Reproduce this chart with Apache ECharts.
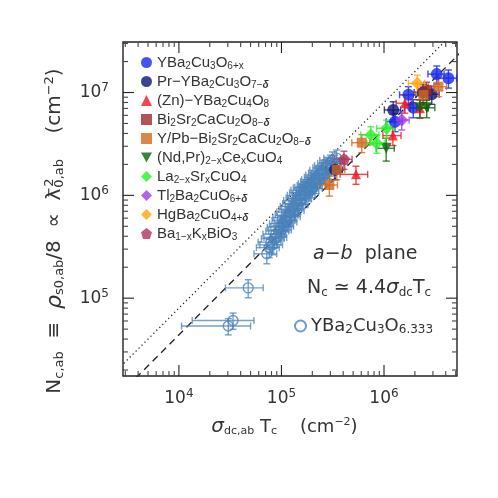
<!DOCTYPE html>
<html><head><meta charset="utf-8">
<script src="https://cdn.jsdelivr.net/npm/echarts@6/dist/echarts.min.js"></script>
<style>html,body{margin:0;padding:0;background:#fff}#c{width:498px;height:498px}</style>
</head><body><div id="c"></div>
<script>
const FONT = 'Liberation Sans';
const FONT2 = 'DejaVu Sans';
// axis ranges
const xMin = 2850, xMax = 5.15e6, yMin = 1.75e4, yMax = 3.1e7;
const xMajorTicks = [1e4, 1e5, 1e6];
const yMajorTicks = [1e5, 1e6, 1e7];
// reference lines: Nc = factor * sigma*Tc
const refLineX = [1e3, 1e7];
const dottedFactor = 8.0;
const dashedFactor = 4.4;

// points: [x, y, xErrFrac, yErrFrac]
const ybco6x = [[3.27e6,1.51e7,0.18,0.2],[4.25e6,1.38e7,0.2,0.2],[1.73e6,9.5e6,0.18,0.2],[1.93e6,7.1e6,0.18,0.2],[1.28e6,5.2e6,0.18,0.2]];
const prYbco = [[1.23e6,6.77e6,0.18,0.2],[3.33e5,1.77e6,0.18,0.2],[2.4e6,1.0e7,0.18,0.2],[2.92e6,9.6e6,0.18,0.2]];
const znYbco = [[5.33e5,1.6e6,0.3,0.2],[1.22e6,3.81e6,0.2,0.2],[1.6e6,7.87e6,0.18,0.2],[2.24e6,7.03e6,0.2,0.2]];
const bi2212 = [[2.6e6,1.05e7,0.18,0.2]];
const ypbBi2212 = [[2.93e5,1.26e6,0.2,0.22],[3.46e5,1.77e6,0.2,0.2],[6.07e5,3.25e6,0.2,0.2],[2.42e6,9.46e6,0.2,0.2],[3.39e6,1.14e7,0.2,0.2]];
const ndprCe = [[1.05e6,2.87e6,0.2,0.25],[2.24e6,7.1e6,0.2,0.2],[2.61e6,7.1e6,0.2,0.2]];
const lsco = [[7.43e5,3.87e6,0.2,0.2],[8.5e5,3.21e6,0.2,0.2],[1.06e6,4.49e6,0.2,0.2]];
const tl2201 = [[1.49e6,5.4e6,0.18,0.2]];
const hg1201 = [[2.11e6,1.23e7,0.18,0.2]];
const bkbo = [[4.07e5,2.24e6,0.2,0.2]];
const ybco6333 = [[3.03e4,5.36e4,0.65,0.18],[3.37e4,6.07e4,0.6,0.18],[4.74e4,1.26e5,0.4,0.2],[7.2e4,2.7e5,0.25,0.2],
 [7.6e4,3.1e5,0.25,0.2],[7.9e4,3.5e5,0.25,0.2],[8.2e4,3.3e5,0.25,0.2],[8.5e4,3.8e5,0.25,0.2],[8.8e4,4.2e5,0.25,0.2],
 [9.0e4,3.9e5,0.25,0.2],[9.4e4,4.5e5,0.25,0.2],[9.7e4,4.9e5,0.25,0.2],[1.0e5,4.6e5,0.25,0.2],[1.02e5,5.3e5,0.25,0.2],
 [1.05e5,5.0e5,0.25,0.2],[1.08e5,5.7e5,0.25,0.2],[1.1e5,6.1e5,0.25,0.2],[1.13e5,5.5e5,0.25,0.2],[1.16e5,6.4e5,0.25,0.2],
 [1.2e5,6.9e5,0.25,0.2],[1.22e5,6.2e5,0.25,0.2],[1.26e5,7.3e5,0.25,0.2],[1.3e5,7.8e5,0.25,0.2],[1.33e5,7.1e5,0.25,0.2],
 [1.37e5,8.3e5,0.25,0.2],[1.4e5,8.9e5,0.25,0.2],[1.45e5,8.1e5,0.25,0.2],[1.48e5,9.4e5,0.25,0.2],[1.52e5,1.0e6,0.25,0.2],
 [1.56e5,9.2e5,0.25,0.2],[1.6e5,1.06e6,0.25,0.2],[1.65e5,1.12e6,0.25,0.2],[1.7e5,1.02e6,0.25,0.2],[1.74e5,1.18e6,0.25,0.2],
 [1.8e5,1.2e6,0.25,0.2],[1.85e5,1.1e6,0.25,0.2],[1.9e5,1.25e6,0.25,0.2],[1.95e5,1.3e6,0.25,0.2],[2.0e5,1.18e6,0.25,0.2],
 [2.05e5,1.36e6,0.25,0.2],[2.1e5,1.42e6,0.25,0.2],[2.17e5,1.3e6,0.25,0.2],[2.23e5,1.5e6,0.25,0.2],[2.3e5,1.58e6,0.25,0.2],
 [2.37e5,1.45e6,0.25,0.2],[2.45e5,1.65e6,0.25,0.2],[2.52e5,1.75e6,0.25,0.2],[2.6e5,1.62e6,0.25,0.2],[2.7e5,1.85e6,0.25,0.2],
 [2.8e5,1.95e6,0.25,0.2],[2.9e5,1.8e6,0.25,0.2],[3.0e5,2.05e6,0.25,0.2],[3.15e5,2.2e6,0.25,0.2],[3.3e5,2.05e6,0.25,0.2],[3.45e5,2.3e6,0.25,0.2]];

const seriesDefs = [
 {name:'YBa2Cu3O6+x', label:'YBa{s|2}Cu{s|3}O{s|6+x}', data:ybco6x, color:'#1428f0', symbol:'circle', size:12},
 {name:'Pr-YBa2Cu3O7-δ', label:'Pr−YBa{s|2}Cu{s|3}O{s|7−}{d|δ}', data:prYbco, color:'#0c1478', symbol:'circle', size:12},
 {name:'(Zn)-YBa2Cu4O8', label:'(Zn)−YBa{s|2}Cu{s|4}O{s|8}', data:znYbco, color:'#f5141e', symbol:'triangle', size:10},
 {name:'Bi2Sr2CaCu2O8-δ', label:'Bi{s|2}Sr{s|2}CaCu{s|2}O{s|8−}{d|δ}', data:bi2212, color:'#a0282d', symbol:'rect', size:10},
 {name:'Y/Pb-Bi2Sr2CaCu2O8-δ', label:'Y/Pb−Bi{s|2}Sr{s|2}CaCu{s|2}O{s|8−}{d|δ}', data:ypbBi2212, color:'#d2691e', symbol:'rect', size:10},
 {name:'(Nd,Pr)2-xCexCuO4', label:'(Nd,Pr){s|2−x}Ce{s|x}CuO{s|4}', data:ndprCe, color:'#0a640a', symbol:'path://M0,0 L10,0 L5,9 Z', size:11},
 {name:'La2-xSrxCuO4', label:'La{s|2−x}Sr{s|x}CuO{s|4}', data:lsco, color:'#28f028', symbol:'diamond', size:13},
 {name:'Tl2Ba2CuO6+δ', label:'Tl{s|2}Ba{s|2}CuO{s|6+}{d|δ}', data:tl2201, color:'#a03ce6', symbol:'diamond', size:13},
 {name:'HgBa2CuO4+δ', label:'HgBa{s|2}CuO{s|4+}{d|δ}', data:hg1201, color:'#ffa50a', symbol:'diamond', size:13},
 {name:'Ba1-xKxBiO3', label:'Ba{s|1−x}K{s|x}BiO{s|3}', data:bkbo, color:'#b4325a', symbol:'path://M5,0 L10,3.8 L8.1,10 L1.9,10 L0,3.8 Z', size:12},
 {name:'YBa2Cu3O6.333', label:'YBa{s|2}Cu{s|3}O{s|6.333}', data:ybco6333, color:'#4a82ba', symbol:'circle', size:10, open:true}
];
const labelMap = {};
seriesDefs.forEach(d => labelMap[d.name] = d.label);

function errRender(color, cap, lw, op) {
  return function(params, api) {
    const x = api.value(0), y = api.value(1);
    const c = api.coord([x, y]);
    const xl = api.coord([api.value(2), y])[0], xh = api.coord([api.value(3), y])[0];
    const yl = api.coord([x, api.value(4)])[1], yh = api.coord([x, api.value(5)])[1];
    const st = {stroke: color, lineWidth: lw, fill: null, opacity: op};
    return {type:'group', children:[
      {type:'line', shape:{x1:xl,y1:c[1],x2:xh,y2:c[1]}, style:st},
      {type:'line', shape:{x1:xl,y1:c[1]-cap,x2:xl,y2:c[1]+cap}, style:st},
      {type:'line', shape:{x1:xh,y1:c[1]-cap,x2:xh,y2:c[1]+cap}, style:st},
      {type:'line', shape:{x1:c[0],y1:yl,x2:c[0],y2:yh}, style:st},
      {type:'line', shape:{x1:c[0]-cap,y1:yl,x2:c[0]+cap,y2:yl}, style:st},
      {type:'line', shape:{x1:c[0]-cap,y1:yh,x2:c[0]+cap,y2:yh}, style:st}
    ]};
  };
}

// ticks
const tickData = [];
for (let e = 3; e <= 7; e++) for (let m = 1; m <= 9; m++) {
  const v = m * Math.pow(10, e);
  if (v >= xMin && v <= xMax) tickData.push([v, 1e5, 0, m === 1 ? 1 : 0]);
  if (v >= yMin && v <= yMax) tickData.push([1e5, v, 1, m === 1 ? 1 : 0]);
}
function tickRender(params, api) {
  const cs = params.coordSys;
  const kind = api.value(2), major = api.value(3);
  const len = major ? 11 : 5;
  const p = api.coord([api.value(0), api.value(1)]);
  const st = {stroke: major ? '#222' : '#444', lineWidth: 1.1};
  if (kind === 0) {
    return {type:'group', children:[
      {type:'line', shape:{x1:p[0],y1:cs.y+cs.height,x2:p[0],y2:cs.y+cs.height-len}, style:st},
      {type:'line', shape:{x1:p[0],y1:cs.y,x2:p[0],y2:cs.y+len}, style:st}
    ]};
  }
  return {type:'group', children:[
    {type:'line', shape:{x1:cs.x,y1:p[1],x2:cs.x+len,y2:p[1]}, style:st},
    {type:'line', shape:{x1:cs.x+cs.width,y1:p[1],x2:cs.x+cs.width-len,y2:p[1]}, style:st}
  ]};
}

const series = [];
series.push({type:'custom', name:'ticks', data:tickData, renderItem:tickRender, silent:true, z:5, clip:false});
series.push({type:'line', name:'dotted', data:refLineX.map(x=>[x, x*dottedFactor]), symbol:'none', silent:true,
  lineStyle:{color:'#222', width:1.3, type:[1.2,3]}, z:1});
series.push({type:'line', name:'dashed', data:refLineX.map(x=>[x, x*dashedFactor]), symbol:'none', silent:true,
  lineStyle:{color:'#222', width:1.3, type:[7,5]}, z:1});
const order = [10,0,1,2,3,4,5,6,7,8,9];
order.forEach(i => {
  const d = seriesDefs[i];
  series.push({type:'custom', name:'err'+i, silent:true, z:2,
    data: d.data.map(p => [p[0], p[1], p[0]*(1-p[2]), p[0]*(1+p[2]), p[1]*(1-p[3]), p[1]*(1+p[3])]),
    renderItem: errRender(d.color, 3.5, 1.4, d.open ? 0.75 : 0.8)});
});
order.forEach(i => {
  const d = seriesDefs[i];
  series.push({type:'scatter', name:d.name, symbol:d.symbol, symbolSize:d.size, z:3,
    data: d.data.map(p => [p[0], p[1]]),
    itemStyle: d.open ? {color:'rgba(255,255,255,0)', borderColor:d.color, borderWidth:1.4} : {color:d.color}});
});

const richSub = {
  s:{fontSize:10, fontFamily:FONT, padding:[7,0,0,0], color:'#333'},
  d:{fontSize:10, fontFamily:FONT, fontWeight:'bold', fontStyle:'italic', padding:[7,0,0,0], color:'#333'}
};
const richSub2 = {
  s:{fontSize:12, fontFamily:FONT2, padding:[8,0,0,0], color:'#333'}
};
function powLabel(v) {
  const e = Math.round(Math.log10(v));
  if (Math.abs(Math.log10(v) - e) > 1e-6) return '';
  return '{b|10}{p|' + e + '}';
}
const axisRich = {b:{fontSize:17, fontFamily:FONT2, color:'#333'}, p:{fontSize:12, fontFamily:FONT2, color:'#333', padding:[0,0,9,0]}};

const chart = echarts.init(document.getElementById('c'), null, {renderer:'canvas'});
chart.setOption({
  animation:false,
  backgroundColor:'#fff',
  grid:{left:123, top:42, right:41, bottom:122, show:true, borderColor:'#222', borderWidth:1.4, backgroundColor:'transparent'},
  xAxis:{type:'log', logBase:10, min:xMin, max:xMax, axisLine:{show:false}, axisTick:{show:false}, splitLine:{show:false},
    axisLabel:{formatter:powLabel, margin:12, rich:axisRich, showMinLabel:false, showMaxLabel:false}},
  yAxis:{type:'log', logBase:10, min:yMin, max:yMax, axisLine:{show:false}, axisTick:{show:false}, splitLine:{show:false},
    axisLabel:{formatter:powLabel, margin:14, rich:axisRich, showMinLabel:false, showMaxLabel:false}},
  legend:[
    {orient:'vertical', left:136, top:50, itemWidth:11, itemHeight:11, itemGap:3, selectedMode:false,
     data: seriesDefs.slice(0,10).map(d=>d.name),
     formatter: n => labelMap[n],
     textStyle:{fontSize:15, fontFamily:FONT, color:'#333', rich:richSub}},
    {orient:'vertical', left:289, top:312, itemWidth:11, itemHeight:11, selectedMode:false,
     data:['YBa2Cu3O6.333'], formatter: n => labelMap[n],
     textStyle:{fontSize:18, fontFamily:FONT2, color:'#333', rich:richSub2}}
  ],
  graphic:[
    {type:'text', x:313, y:254, style:{text:'{i|a}−{i|b}  plane', fontSize:19, fontFamily:FONT2, fill:'#333',
      verticalAlign:'middle', rich:{i:{fontSize:19, fontFamily:FONT2, fontStyle:'italic'}}}},
    {type:'text', x:307, y:288, style:{text:'N{s|c} ≃ 4.4{i|σ}{s|dc}T{s|c}', fontSize:19, fontFamily:FONT2, fill:'#333',
      verticalAlign:'middle',
      rich:{i:{fontSize:20, fontFamily:FONT2, fontStyle:'italic'}, s:{fontSize:12, fontFamily:FONT2, padding:[9,0,0,0]}}}},
    {type:'text', x:284.5, y:427, style:{text:'{i|σ}{s|dc,ab} T{s|c}    (cm{p|−2})', fontSize:18, fontFamily:FONT2, fill:'#333',
      align:'center', verticalAlign:'middle',
      rich:{i:{fontSize:20, fontFamily:FONT2, fontStyle:'italic'}, s:{fontSize:11, fontFamily:FONT2, padding:[8,0,0,0]}, p:{fontSize:11, fontFamily:FONT2, padding:[0,0,9,0]}}}},
    {type:'text', x:55, y:231, rotation:Math.PI/2, style:{text:'N{s|c,ab}  ≡  {i|ρ}{s|s0,ab}/8  ∝  λ{k|−2}{s|0,ab}    (cm{p|−2})', fontSize:20, fontFamily:FONT2, fill:'#333',
      align:'center', verticalAlign:'middle',
      rich:{i:{fontSize:22, fontFamily:FONT2, fontStyle:'italic'}, s:{fontSize:13, fontFamily:FONT2, padding:[9,0,0,0]},
        k:{fontSize:13, fontFamily:FONT2, width:1, align:'left', padding:[0,0,10,0]}, p:{fontSize:13, fontFamily:FONT2, padding:[0,0,10,0]}}}}
  ],
  series: series
});
</script></body></html>
